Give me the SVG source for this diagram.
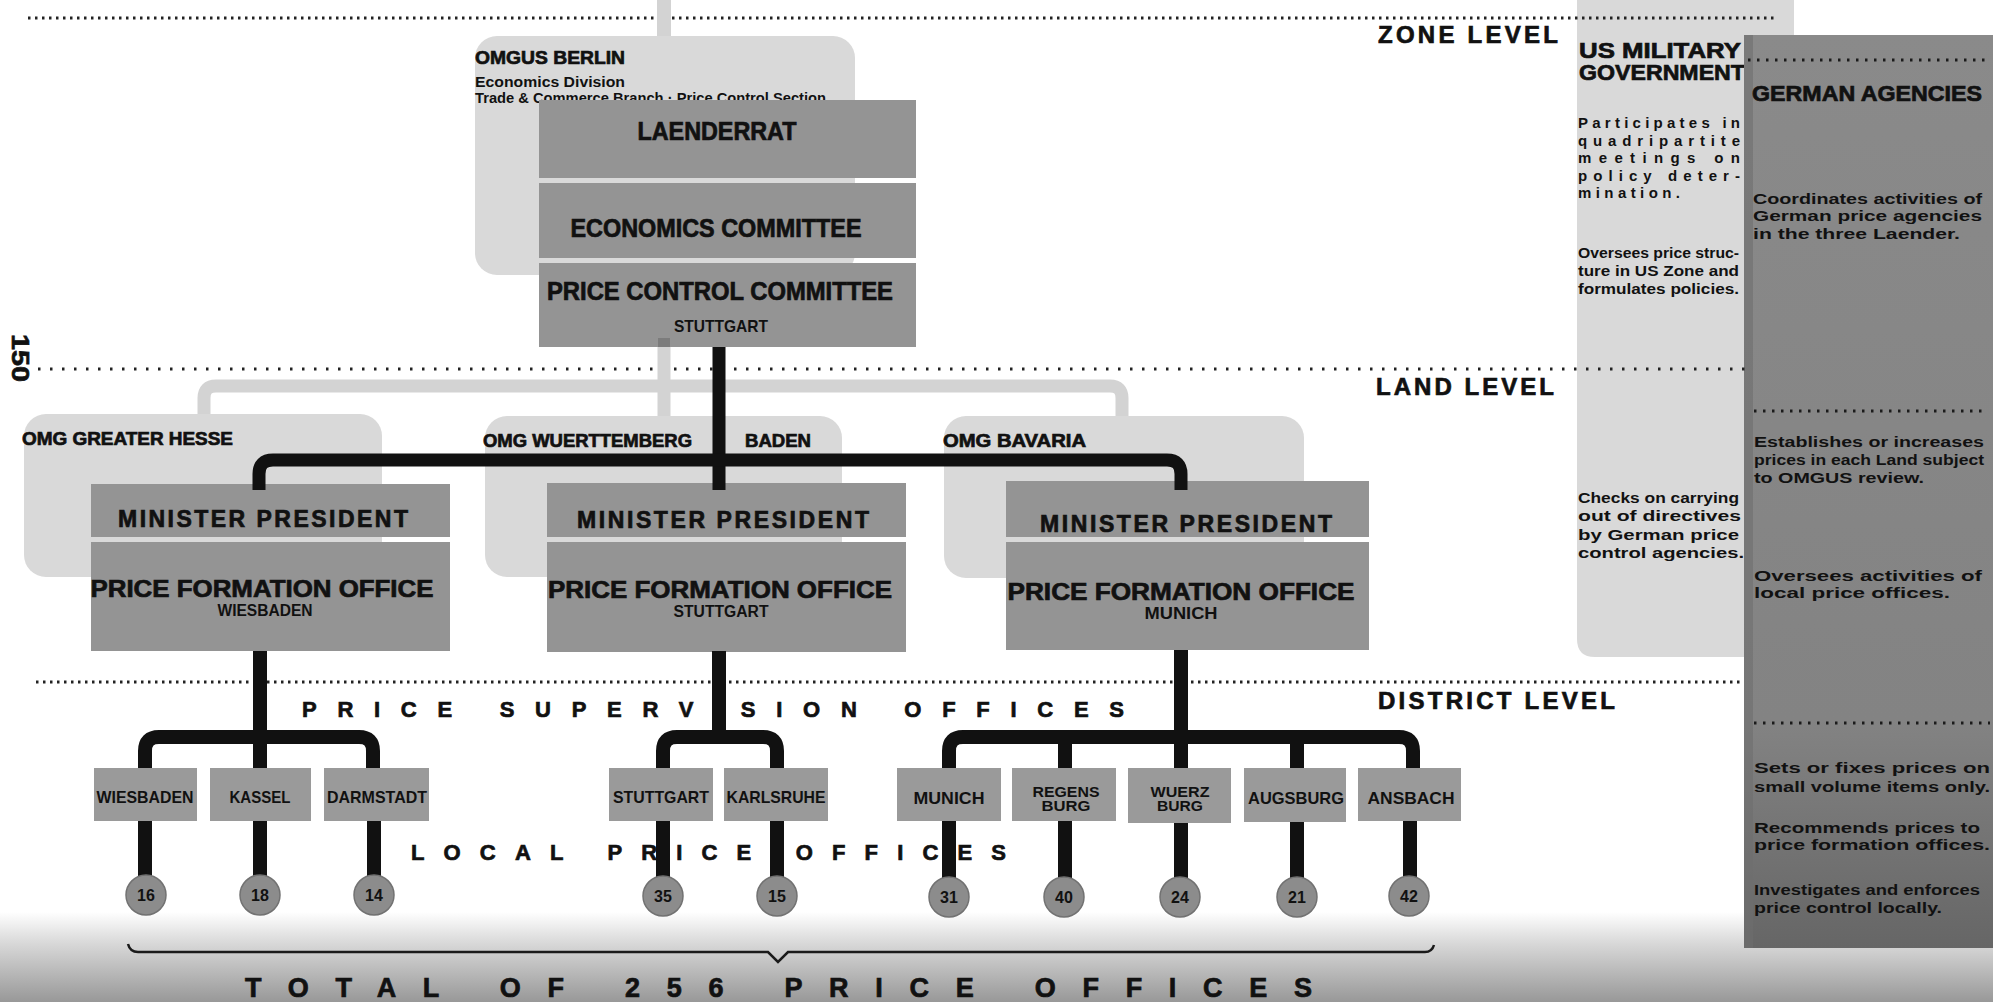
<svg xmlns="http://www.w3.org/2000/svg" width="1993" height="1002" viewBox="0 0 1993 1002">
<defs>
<linearGradient id="fog" x1="0" y1="0" x2="0" y2="1">
<stop offset="0" stop-color="#ffffff"/>
<stop offset="0.35" stop-color="#d8d8d8"/>
<stop offset="1" stop-color="#989898"/>
</linearGradient>
<linearGradient id="darkcol" x1="0" y1="0" x2="0" y2="1">
<stop offset="0" stop-color="#8a8a8a"/>
<stop offset="0.75" stop-color="#838383"/>
<stop offset="1" stop-color="#666666"/>
</linearGradient>
<style>
.t{font-family:"Liberation Sans","DejaVu Sans",sans-serif;font-weight:bold;fill:#111;}
.h{stroke:#111;stroke-width:0.7;}
.c{text-anchor:middle;}
.box{fill:#949494;}
.dbox{fill:#9a9a9a;}
.lite{fill:#d9d9d9;}
.dot{stroke:#222;stroke-width:3;stroke-dasharray:2.5 4.5;fill:none;}
.dotw{stroke:#222;stroke-width:3;stroke-dasharray:2.5 9.5;fill:none;}
.dotc{stroke:#1a1a1a;stroke-width:3;stroke-dasharray:2.5 6.5;fill:none;}
.blk{stroke:#111;stroke-width:13;fill:none;}
.blk2{stroke:#111;stroke-width:14;fill:none;}
.gry{stroke:#d3d3d3;stroke-width:13;fill:none;}
.circ{fill:#8c8c8c;stroke:#727272;stroke-width:1.5;}
.lvl{font-size:24px;}
.desc{font-size:15px;}
</style>
</defs>
<rect x="0" y="0" width="1993" height="1002" fill="#ffffff"/>
<rect x="0" y="912" width="1993" height="90" fill="url(#fog)"/>

<!-- right-hand columns -->
<g id="us-military-government">
<path d="M1577,0 H1794 V657 H1595 Q1577,657 1577,639 Z" class="lite"/>
<text class="t h" x="1579" y="58" font-size="22" textLength="162" lengthAdjust="spacingAndGlyphs">US MILITARY</text>
<text class="t h" x="1579" y="80" font-size="22" textLength="166" lengthAdjust="spacingAndGlyphs">GOVERNMENT</text>
<text class="t desc" x="1578" y="128" textLength="162" lengthAdjust="spacing">Participates in</text>
<text class="t desc" x="1578" y="145.5" textLength="162" lengthAdjust="spacing">quadripartite</text>
<text class="t desc" x="1578" y="163" textLength="162" lengthAdjust="spacing">meetings on</text>
<text class="t desc" x="1578" y="180.5" textLength="162" lengthAdjust="spacing">policy deter-</text>
<text class="t desc" x="1578" y="198" textLength="102" lengthAdjust="spacing">mination.</text>
<text class="t" x="1578" y="258" font-size="14" textLength="161" lengthAdjust="spacingAndGlyphs">Oversees price struc-</text>
<text class="t" x="1578" y="276" font-size="14" textLength="161" lengthAdjust="spacingAndGlyphs">ture in US Zone and</text>
<text class="t" x="1578" y="294" font-size="14" textLength="161" lengthAdjust="spacingAndGlyphs">formulates policies.</text>
<text class="t desc" x="1578" y="503" textLength="161" lengthAdjust="spacingAndGlyphs">Checks on carrying</text>
<text class="t desc" x="1578" y="521" textLength="163" lengthAdjust="spacingAndGlyphs">out of directives</text>
<text class="t desc" x="1578" y="540" textLength="161" lengthAdjust="spacingAndGlyphs">by German price</text>
<text class="t desc" x="1578" y="558" textLength="166" lengthAdjust="spacingAndGlyphs">control agencies.</text>
</g>
<g id="german-agencies">
<rect x="1744" y="35" width="249" height="913" fill="url(#darkcol)"/>
<rect x="1744" y="35" width="9" height="913" fill="#6e6e6e" opacity="0.6"/>
<line x1="1748" y1="60" x2="1988" y2="60" class="dotc"/>
<text class="t h" x="1752" y="101" font-size="22" textLength="230" lengthAdjust="spacingAndGlyphs">GERMAN AGENCIES</text>
<text class="t" x="1753" y="204" font-size="14.5" textLength="229" lengthAdjust="spacingAndGlyphs">Coordinates activities of</text>
<text class="t" x="1753" y="221" font-size="14.5" textLength="229" lengthAdjust="spacingAndGlyphs">German price agencies</text>
<text class="t" x="1753" y="239" font-size="14.5" textLength="207" lengthAdjust="spacingAndGlyphs">in the three Laender.</text>
<line x1="1754" y1="411" x2="1988" y2="411" class="dotc"/>
<text class="t" x="1754" y="447" font-size="14.5" textLength="230" lengthAdjust="spacingAndGlyphs">Establishes or increases</text>
<text class="t" x="1754" y="465" font-size="14.5" textLength="230" lengthAdjust="spacingAndGlyphs">prices in each Land subject</text>
<text class="t" x="1754" y="483" font-size="14.5" textLength="170" lengthAdjust="spacingAndGlyphs">to OMGUS review.</text>
<text class="t" x="1754" y="581" font-size="14.5" textLength="228" lengthAdjust="spacingAndGlyphs">Oversees activities of</text>
<text class="t" x="1754" y="598" font-size="14.5" textLength="196" lengthAdjust="spacingAndGlyphs">local price offices.</text>
<line x1="1754" y1="723" x2="1990" y2="723" class="dotc"/>
<text class="t" x="1754" y="773" font-size="14.5" textLength="236" lengthAdjust="spacingAndGlyphs">Sets or fixes prices on</text>
<text class="t" x="1754" y="792" font-size="14.5" textLength="236" lengthAdjust="spacingAndGlyphs">small volume items only.</text>
<text class="t" x="1754" y="833" font-size="14.5" textLength="226" lengthAdjust="spacingAndGlyphs">Recommends prices to</text>
<text class="t" x="1754" y="850" font-size="14.5" textLength="236" lengthAdjust="spacingAndGlyphs">price formation offices.</text>
<text class="t" x="1754" y="895" font-size="14.5" textLength="226" lengthAdjust="spacingAndGlyphs">Investigates and enforces</text>
<text class="t" x="1754" y="913" font-size="14.5" textLength="188" lengthAdjust="spacingAndGlyphs">price control locally.</text>
</g>

<!-- level lines -->
<g id="levels">
<line x1="28" y1="18" x2="1777" y2="18" class="dot"/>
<line x1="38" y1="369" x2="1745" y2="369" class="dotw"/>
<line x1="36" y1="682" x2="1742" y2="682" class="dot"/>
<text class="t lvl h" x="1378" y="43" textLength="180" lengthAdjust="spacing">ZONE LEVEL</text>
<text class="t lvl h" x="1376" y="395" textLength="178" lengthAdjust="spacing">LAND LEVEL</text>
<text class="t lvl h" x="1378" y="709" textLength="237" lengthAdjust="spacing">DISTRICT LEVEL</text>
<text class="t c h" x="0" y="0" font-size="24" transform="translate(12,358) rotate(90)" textLength="48" lengthAdjust="spacingAndGlyphs">150</text>
</g>

<!-- light (US MG) connectors -->
<g id="mg-connectors">
<rect x="657" y="0" width="14" height="37" fill="#d3d3d3"/>
<path class="gry" d="M204,416 V398 Q204,386 216,386 H1110 Q1122,386 1122,398 V418"/>
<path class="gry" d="M664,340 V418"/>
</g>

<g id="omgus-berlin">
<rect x="475" y="36" width="380" height="239" rx="22" class="lite"/>
<text class="t h" x="475" y="64" font-size="19" textLength="150" lengthAdjust="spacingAndGlyphs">OMGUS BERLIN</text>
<text class="t" x="475" y="87" font-size="14" font-weight="normal" textLength="150" lengthAdjust="spacingAndGlyphs">Economics  Division</text>
<text class="t" x="475" y="103" font-size="14" textLength="351" lengthAdjust="spacingAndGlyphs">Trade &amp; Commerce Branch · Price Control Section</text>
</g>
<g id="laenderrat">
<rect x="539" y="100" width="377" height="78" class="box"/>
<text class="t c h" x="717" y="140" font-size="25" textLength="159" lengthAdjust="spacingAndGlyphs">LAENDERRAT</text>
</g>
<g id="economics-committee">
<rect x="539" y="183" width="377" height="75" class="box"/>
<text class="t c h" x="716" y="237" font-size="25" textLength="291" lengthAdjust="spacingAndGlyphs">ECONOMICS  COMMITTEE</text>
</g>
<g id="price-control-committee">
<rect x="539" y="263" width="377" height="84" class="box"/>
<rect x="658" y="338" width="12" height="9" fill="#7c7c7c"/>
<text class="t c h" x="720" y="300" font-size="25" textLength="346" lengthAdjust="spacingAndGlyphs">PRICE  CONTROL  COMMITTEE</text>
<text class="t c" x="721" y="332" font-size="17" font-weight="normal" textLength="94" lengthAdjust="spacingAndGlyphs">STUTTGART</text>
</g>

<!-- Land level -->
<g id="omg-greater-hesse">
<rect x="24" y="414" width="358" height="163" rx="22" class="lite"/>
<text class="t h" x="22" y="445" font-size="18" textLength="211" lengthAdjust="spacingAndGlyphs">OMG GREATER HESSE</text>
</g>
<g id="omg-wuerttemberg-baden">
<rect x="485" y="416" width="357" height="161" rx="22" class="lite"/>
<text class="t h" x="483" y="447" font-size="18" textLength="209" lengthAdjust="spacingAndGlyphs">OMG WUERTTEMBERG</text>
<text class="t h" x="745" y="447" font-size="18" textLength="66" lengthAdjust="spacingAndGlyphs">BADEN</text>
</g>
<g id="omg-bavaria">
<rect x="944" y="416" width="360" height="162" rx="22" class="lite"/>
<text class="t h" x="943" y="447" font-size="18" textLength="143" lengthAdjust="spacingAndGlyphs">OMG BAVARIA</text>
</g>

<g id="hesse-offices">
<rect x="91" y="484" width="359" height="53" class="box"/>
<text class="t c h" x="263" y="527" font-size="23" textLength="290" lengthAdjust="spacing">MINISTER PRESIDENT</text>
<rect x="91" y="542" width="359" height="109" class="box"/>
<text class="t c h" x="262" y="597" font-size="24" textLength="343" lengthAdjust="spacingAndGlyphs">PRICE FORMATION OFFICE</text>
<text class="t c" x="265" y="616" font-size="16" font-weight="normal" textLength="95" lengthAdjust="spacingAndGlyphs">WIESBADEN</text>
</g>
<g id="wb-offices">
<rect x="547" y="483" width="359" height="54" class="box"/>
<text class="t c h" x="723" y="528" font-size="23" textLength="292" lengthAdjust="spacing">MINISTER PRESIDENT</text>
<rect x="547" y="542" width="359" height="110" class="box"/>
<text class="t c h" x="720" y="598" font-size="24" textLength="344" lengthAdjust="spacingAndGlyphs">PRICE FORMATION OFFICE</text>
<text class="t c" x="721" y="617" font-size="16" font-weight="normal" textLength="95" lengthAdjust="spacingAndGlyphs">STUTTGART</text>
</g>
<g id="bavaria-offices">
<rect x="1006" y="481" width="363" height="56" class="box"/>
<text class="t c h" x="1186" y="532" font-size="23" textLength="292" lengthAdjust="spacing">MINISTER PRESIDENT</text>
<rect x="1006" y="542" width="363" height="108" class="box"/>
<text class="t c h" x="1181" y="600" font-size="24" textLength="347" lengthAdjust="spacingAndGlyphs">PRICE FORMATION OFFICE</text>
<text class="t c" x="1181" y="619" font-size="16" font-weight="normal" textLength="73" lengthAdjust="spacingAndGlyphs">MUNICH</text>
</g>

<!-- German agency connectors -->
<g id="connectors">
<path class="blk" d="M719,347 V490"/>
<path class="blk" d="M259,490 V474 Q259,460 273,460 H1167 Q1181,460 1181,474 V490"/>
<path class="blk2" d="M260,651 V768"/>
<path class="blk2" d="M719,651 V740"/>
<path class="blk2" d="M1181,650 V768"/>
<path class="blk2" d="M145,768 V751 Q145,737 159,737 H359 Q373,737 373,751 V768"/>
<path class="blk2" d="M663,768 V751 Q663,737 677,737 H763 Q777,737 777,751 V768"/>
<path class="blk2" d="M949,768 V751 Q949,737 963,737 H1399 Q1413,737 1413,751 V768"/>
<path class="blk2" d="M1065,737 V768 M1297,737 V768"/>
<path class="blk2" d="M145,820 V878 M260,820 V878 M374,820 V878 M663,820 V878 M777,820 V878 M949,820 V878 M1065,820 V878 M1181,820 V878 M1297,820 V878 M1410,820 V878"/>
</g>

<g id="level-labels">
<text class="t h" x="302" y="717" font-size="22" textLength="822" lengthAdjust="spacing">PRICE SUPERVISION OFFICES</text>
<text class="t h" x="411" y="860" font-size="22" textLength="595" lengthAdjust="spacing">LOCAL PRICE OFFICES</text>
</g>

<!-- district offices -->
<g id="d-wiesbaden"><rect x="94" y="768" width="103" height="53" class="dbox"/><text class="t c" x="145" y="803" font-size="17" font-weight="normal" textLength="97" lengthAdjust="spacingAndGlyphs">WIESBADEN</text></g>
<g id="d-kassel"><rect x="210" y="768" width="101" height="53" class="dbox"/><text class="t c" x="260" y="803" font-size="17" font-weight="normal" textLength="61" lengthAdjust="spacingAndGlyphs">KASSEL</text></g>
<g id="d-darmstadt"><rect x="324" y="768" width="105" height="53" class="dbox"/><text class="t c" x="377" y="803" font-size="17" font-weight="normal" textLength="100" lengthAdjust="spacingAndGlyphs">DARMSTADT</text></g>
<g id="d-stuttgart"><rect x="609" y="768" width="104" height="53" class="dbox"/><text class="t c" x="661" y="803" font-size="17" font-weight="normal" textLength="96" lengthAdjust="spacingAndGlyphs">STUTTGART</text></g>
<g id="d-karlsruhe"><rect x="724" y="768" width="104" height="53" class="dbox"/><text class="t c" x="776" y="803" font-size="17" font-weight="normal" textLength="99" lengthAdjust="spacingAndGlyphs">KARLSRUHE</text></g>
<g id="d-munich"><rect x="897" y="768" width="104" height="53" class="dbox"/><text class="t c" x="949" y="804" font-size="17" font-weight="normal" textLength="71" lengthAdjust="spacingAndGlyphs">MUNICH</text></g>
<g id="d-regensburg"><rect x="1012" y="768" width="104" height="53" class="dbox"/><text class="t c" x="1066" y="797" font-size="15" font-weight="normal" textLength="67" lengthAdjust="spacingAndGlyphs">REGENS</text><text class="t c" x="1066" y="811" font-size="15" font-weight="normal" textLength="49" lengthAdjust="spacingAndGlyphs">BURG</text></g>
<g id="d-wuerzburg"><rect x="1128" y="768" width="103" height="55" class="dbox"/><text class="t c" x="1180" y="797" font-size="15" font-weight="normal" textLength="59" lengthAdjust="spacingAndGlyphs">WUERZ</text><text class="t c" x="1180" y="811" font-size="15" font-weight="normal" textLength="46" lengthAdjust="spacingAndGlyphs">BURG</text></g>
<g id="d-augsburg"><rect x="1244" y="768" width="102" height="54" class="dbox"/><text class="t c" x="1296" y="804" font-size="17" font-weight="normal" textLength="96" lengthAdjust="spacingAndGlyphs">AUGSBURG</text></g>
<g id="d-ansbach"><rect x="1358" y="768" width="103" height="53" class="dbox"/><text class="t c" x="1411" y="804" font-size="17" font-weight="normal" textLength="87" lengthAdjust="spacingAndGlyphs">ANSBACH</text></g>

<!-- local price office counts -->
<g id="c16"><circle cx="146" cy="895" r="20" class="circ"/><text class="t c" x="146" y="901" font-size="16" font-weight="normal">16</text></g>
<g id="c18"><circle cx="260" cy="895" r="20" class="circ"/><text class="t c" x="260" y="901" font-size="16" font-weight="normal">18</text></g>
<g id="c14"><circle cx="374" cy="895" r="20" class="circ"/><text class="t c" x="374" y="901" font-size="16" font-weight="normal">14</text></g>
<g id="c35"><circle cx="663" cy="896" r="20" class="circ"/><text class="t c" x="663" y="902" font-size="16" font-weight="normal">35</text></g>
<g id="c15"><circle cx="777" cy="896" r="20" class="circ"/><text class="t c" x="777" y="902" font-size="16" font-weight="normal">15</text></g>
<g id="c31"><circle cx="949" cy="897" r="20" class="circ"/><text class="t c" x="949" y="903" font-size="16" font-weight="normal">31</text></g>
<g id="c40"><circle cx="1064" cy="897" r="20" class="circ"/><text class="t c" x="1064" y="903" font-size="16" font-weight="normal">40</text></g>
<g id="c24"><circle cx="1180" cy="897" r="20" class="circ"/><text class="t c" x="1180" y="903" font-size="16" font-weight="normal">24</text></g>
<g id="c21"><circle cx="1297" cy="897" r="20" class="circ"/><text class="t c" x="1297" y="903" font-size="16" font-weight="normal">21</text></g>
<g id="c42"><circle cx="1409" cy="896" r="20" class="circ"/><text class="t c" x="1409" y="902" font-size="16" font-weight="normal">42</text></g>

<g id="total">
<path d="M128,944 Q130,952 138,952 H768 L778,962 L788,952 H1425 Q1432,952 1434,945" stroke="#1a1a1a" stroke-width="2.5" fill="none"/>
<text class="t h" x="245" y="997" font-size="27" textLength="1067" lengthAdjust="spacing">TOTAL OF 256 PRICE OFFICES</text>
</g>
</svg>
